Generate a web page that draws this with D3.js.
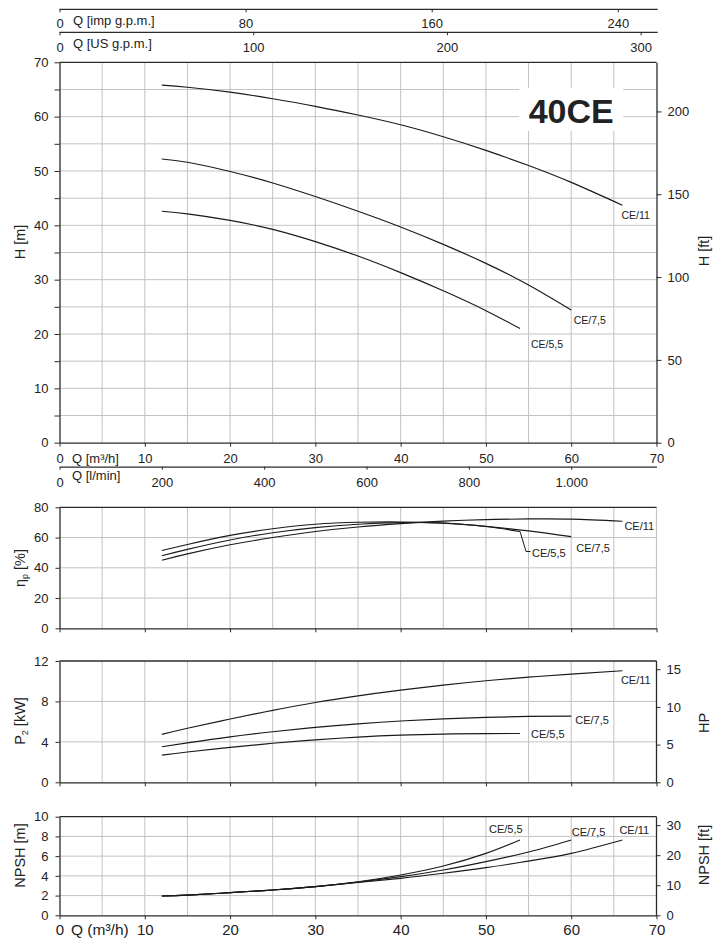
<!DOCTYPE html>
<html><head><meta charset="utf-8">
<script src="https://cdn.jsdelivr.net/npm/d3@7/dist/d3.min.js"></script>
<style>
body{margin:0;background:#fff}
svg{display:block}
text{font-family:"Liberation Sans",Arial,Helvetica,sans-serif;fill:#222}
</style>
</head><body>
<svg id="c" width="724" height="940"></svg>
<script>
// ---------------- DATA ----------------
const seriesNames = ["CE/5,5", "CE/7,5", "CE/11"];
// flow points (m3/h) per series
const qCE55 = [12, 15, 20, 25, 30, 35, 40, 45, 50, 54];
const qCE75 = [12, 15, 20, 25, 30, 35, 40, 45, 50, 55, 60];
const qCE11 = [12, 15, 20, 25, 30, 35, 40, 45, 50, 55, 60, 66];
// head H [m]
const headCE55 = [42.6, 42.1, 40.9, 39.25, 37.0, 34.35, 31.3, 27.95, 24.3, 21.0];
const headCE75 = [52.2, 51.6, 49.9, 47.8, 45.3, 42.6, 39.7, 36.5, 33.0, 29.0, 24.4];
const headCE11 = [65.8, 65.4, 64.5, 63.3, 61.9, 60.3, 58.5, 56.3, 53.8, 51.0, 47.9, 43.7];
// efficiency [%]
const effCE55 = [51.4, 55.4, 61.4, 65.8, 68.8, 70.1, 70.3, 69.5, 67.3, 64.0];
const effCE75 = [48.0, 52.2, 58.4, 63.2, 66.6, 68.8, 69.9, 69.6, 67.4, 64.4, 60.6];
const effCE11 = [45.0, 49.2, 55.2, 60.0, 64.0, 67.0, 69.2, 70.9, 71.9, 72.3, 72.2, 70.8];
// power P2 [kW]
const powCE55 = [2.69, 3.0, 3.45, 3.86, 4.2, 4.47, 4.66, 4.77, 4.82, 4.83];
const powCE75 = [3.52, 3.90, 4.50, 5.00, 5.43, 5.78, 6.06, 6.27, 6.42, 6.52, 6.55];
const powCE11 = [4.74, 5.35, 6.26, 7.12, 7.90, 8.55, 9.12, 9.62, 10.05, 10.40, 10.70, 11.04];
// NPSH [m]
const npshCE55 = [1.96, 2.05, 2.30, 2.57, 2.91, 3.40, 4.09, 5.00, 6.28, 7.64];
const npshCE75 = [1.96, 2.05, 2.30, 2.57, 2.91, 3.36, 3.92, 4.59, 5.44, 6.42, 7.64];
const npshCE11 = [1.96, 2.05, 2.30, 2.57, 2.91, 3.33, 3.75, 4.26, 4.83, 5.50, 6.28, 7.64];
// tick labels
const ticksImp = [0, 80, 160, 240];
const ticksUS = [0, 100, 200, 300];
const ticksLmin = [0, 200, 400, 600, 800, 1000];
const ticksQ = [0, 10, 20, 30, 40, 50, 60, 70];
const ticksHm = [0, 5, 10, 15, 20, 25, 30, 35, 40, 45, 50, 55, 60, 65, 70];
const ticksHft = [0, 50, 100, 150, 200];
const ticksEff = [0, 20, 40, 60, 80];
const ticksP = [0, 4, 8, 12];
const ticksHP = [0, 5, 10, 15];
const ticksN = [0, 2, 4, 6, 8, 10];
const ticksNft = [0, 10, 20, 30];
const modelTitle = "40CE";

// ---------------- LAYOUT ----------------
const svg = d3.select("#c");
const X0 = 59.5, X1 = 656.5;
const x = d3.scaleLinear().domain([0, 70]).range([X0, X1]);
const xImp = d3.scaleLinear().domain([0, 70 * 3.6662]).range([X0, X1]);
const xUS = d3.scaleLinear().domain([0, 70 * 4.4029]).range([X0, X1]);
const xLmin = d3.scaleLinear().domain([0, 70 * 1000 / 60]).range([X0, X1]);

const yH = d3.scaleLinear().domain([0, 70]).range([442.7, 62.3]);
const yHft = d3.scaleLinear().domain([0, 70 * 3.28084]).range([442.7, 62.3]);
const yE = d3.scaleLinear().domain([0, 80]).range([628.3, 507.3]);
const yP = d3.scaleLinear().domain([0, 12]).range([782.3, 661]);
const yHP = d3.scaleLinear().domain([0, 12 / 0.7457]).range([782.3, 661]);
const yN = d3.scaleLinear().domain([0, 10]).range([915.3, 816.7]);
const yNft = d3.scaleLinear().domain([0, 10 * 3.28084]).range([915.3, 816.7]);

const AX = "#2b2b2b", GRID = "#c3c3c3", CURVE = "#1a1a1a";
const gridX = d3.range(5, 70, 5);

function styleAxis(g, fs) {
  g.select(".domain").attr("stroke", AX).attr("stroke-width", 1.3);
  g.selectAll(".tick line").attr("stroke", AX).attr("stroke-width", 1);
  g.selectAll(".tick text").attr("fill", "#222").style("font-size", fs + "px")
    .style("font-family", '"Liberation Sans",Arial,Helvetica,sans-serif');
}

function drawGrid(yScale, hTicks, withRightGrey) {
  const g = svg.append("g");
  const [yb, yt] = yScale.range();
  g.selectAll("line.v").data(gridX).join("line")
    .attr("x1", d => x(d)).attr("x2", d => x(d)).attr("y1", yt).attr("y2", yb)
    .attr("stroke", GRID).attr("stroke-width", 1);
  g.selectAll("line.h").data(hTicks).join("line")
    .attr("x1", X0).attr("x2", X1).attr("y1", d => yScale(d)).attr("y2", d => yScale(d))
    .attr("stroke", GRID).attr("stroke-width", 1);
  if (withRightGrey) {
    g.append("line").attr("x1", X1).attr("x2", X1).attr("y1", yt).attr("y2", yb)
      .attr("stroke", GRID).attr("stroke-width", 1.2);
  }
  return g;
}

function frameTop(yScale) {
  const yt = yScale.range()[1];
  svg.append("line").attr("x1", X0).attr("x2", X1).attr("y1", yt).attr("y2", yt)
    .attr("stroke", AX).attr("stroke-width", 1.3);
}

const line = (yScale) => d3.line().x(d => x(d[0])).y(d => yScale(d[1])).curve(d3.curveNatural);

function drawCurves(yScale, arrays) {
  const g = svg.append("g");
  arrays.forEach(([q, v]) => {
    g.append("path").datum(d3.zip(q, v)).attr("d", line(yScale))
      .attr("fill", "none").attr("stroke", CURVE).attr("stroke-width", 1.15);
  });
}

function curveLabels(yScale, arrays, offsets, fs) {
  arrays.forEach(([q, v], i) => {
    const ex = x(q[q.length - 1]), ey = yScale(v[v.length - 1]);
    svg.append("text").attr("x", ex + offsets[i][0]).attr("y", ey + offsets[i][1])
      .style("font-size", fs + "px").text(seriesNames[i]);
  });
}

function yTitle(xPos, yPos, txt, fs) {
  return svg.append("text").attr("transform", `translate(${xPos},${yPos}) rotate(-90)`)
    .attr("text-anchor", "middle").style("font-size", fs + "px").text(txt);
}

const fmtDot = d3.formatLocale({decimal: ",", thousands: ".", grouping: [3], currency: ["", ""]}).format(",");

// ---------------- TOP FLOW AXES ----------------
const gImp = svg.append("g").attr("transform", "translate(0,9.3)")
  .call(d3.axisBottom(xImp).tickValues(ticksImp).tickSize(3).tickPadding(6).tickSizeOuter(0));
styleAxis(gImp, 13);
gImp.select(".domain").attr("d", `M${X0},0H${X1 + 1.2}`);
svg.append("text").attr("x", 73).attr("y", 25).style("font-size", "13px").text("Q [imp g.p.m.]");

const gUS = svg.append("g").attr("transform", "translate(0,32.3)")
  .call(d3.axisBottom(xUS).tickValues(ticksUS).tickSize(3).tickPadding(7).tickSizeOuter(0));
styleAxis(gUS, 13);
gUS.select(".domain").attr("d", `M${X0},0H${X1 + 1.2}`);
svg.append("text").attr("x", 73).attr("y", 48).style("font-size", "13px").text("Q [US g.p.m.]");

// ---------------- MAIN H-Q CHART ----------------
drawGrid(yH, ticksHm.filter(d => d > 0 && d < 70), false);
// white box behind model title
const titleCx = x(60.0), titleBase = yH(58.85);
svg.append("rect").attr("x", titleCx - 52).attr("y", titleBase - 35).attr("width", 104).attr("height", 43)
  .attr("fill", "#fff");
svg.append("text").attr("x", titleCx).attr("y", titleBase).attr("text-anchor", "middle")
  .style("font-size", "34px").style("font-weight", "bold").attr("fill", "#1a1a1a").text(modelTitle);

frameTop(yH);
const gHl = svg.append("g").attr("transform", `translate(${X0},0)`)
  .call(d3.axisLeft(yH).tickValues(ticksHm).tickSize(5).tickPadding(6).tickSizeOuter(0)
    .tickFormat(d => d % 10 === 0 ? d : ""));
styleAxis(gHl, 13);
const gHr = svg.append("g").attr("transform", `translate(${X1},0)`)
  .call(d3.axisRight(yHft).tickValues(ticksHft).tickSize(5).tickPadding(6).tickSizeOuter(0));
styleAxis(gHr, 13);
const gHb = svg.append("g").attr("transform", `translate(0,${yH(0)})`)
  .call(d3.axisBottom(x).tickValues(ticksQ).tickSize(4).tickPadding(7).tickSizeOuter(0));
styleAxis(gHb, 13);
svg.append("text").attr("x", 72).attr("y", 462.5).style("font-size", "13px").text("Q [m³/h]");

const gL = svg.append("g").attr("transform", "translate(0,466.7)")
  .call(d3.axisBottom(xLmin).tickValues(ticksLmin).tickSize(3).tickPadding(8).tickSizeOuter(0)
    .tickFormat(d => fmtDot(d)));
styleAxis(gL, 13);
svg.append("text").attr("x", 72).attr("y", 480).style("font-size", "13px").text("Q [l/min]");

const headSets = [[qCE55, headCE55], [qCE75, headCE75], [qCE11, headCE11]];
drawCurves(yH, headSets);
curveLabels(yH, headSets, [[11, 19], [2.5, 13.5], [-1, 13.5]], 10.5);
yTitle(25, 242, "H [m]", 14.5);
yTitle(709, 251, "H [ft]", 14.5);

// ---------------- EFFICIENCY CHART ----------------
drawGrid(yE, ticksEff.filter(d => d > 0 && d < 80), true);
frameTop(yE);
const gEl = svg.append("g").attr("transform", `translate(${X0},0)`)
  .call(d3.axisLeft(yE).tickValues(ticksEff).tickSize(4).tickPadding(7).tickSizeOuter(0));
styleAxis(gEl, 13);
const gEb = svg.append("g").attr("transform", `translate(0,${yE(0)})`)
  .call(d3.axisBottom(x).tickValues(ticksQ).tickSize(4).tickFormat("").tickSizeOuter(0));
styleAxis(gEb, 13);
const effSets = [[qCE55, effCE55], [qCE75, effCE75], [qCE11, effCE11]];
drawCurves(yE, effSets);
curveLabels(yE, effSets, [[12, 25], [5, 15], [2, 8.5]], 11);
{
  const ex = x(qCE55[qCE55.length - 1]), ey = yE(effCE55[effCE55.length - 1]);
  svg.append("path").attr("d", `M${ex},${ey}L${ex + 6},${ey + 20}L${ex + 10.5},${ey + 20}`)
    .attr("fill", "none").attr("stroke", CURVE).attr("stroke-width", 1);
}
const tEta = svg.append("text").attr("transform", "translate(25,568) rotate(-90)")
  .attr("text-anchor", "middle").style("font-size", "14.5px");
tEta.append("tspan").text("η");
tEta.append("tspan").attr("dy", 3).style("font-size", "9px").text("p");
tEta.append("tspan").attr("dy", -3).text(" [%]");

// ---------------- POWER CHART ----------------
drawGrid(yP, ticksP.filter(d => d > 0 && d < 12), false);
frameTop(yP);
const gPl = svg.append("g").attr("transform", `translate(${X0},0)`)
  .call(d3.axisLeft(yP).tickValues(ticksP).tickSize(4).tickPadding(7).tickSizeOuter(0));
styleAxis(gPl, 13);
const gPr = svg.append("g").attr("transform", `translate(${X1},0)`)
  .call(d3.axisRight(yHP).tickValues(ticksHP).tickSize(4).tickPadding(6).tickSizeOuter(0));
styleAxis(gPr, 13);
gPr.select(".domain").attr("d", `M0,${yP(0)}V${yP(12)}`);
const gPb = svg.append("g").attr("transform", `translate(0,${yP(0)})`)
  .call(d3.axisBottom(x).tickValues(ticksQ).tickSize(4).tickFormat("").tickSizeOuter(0));
styleAxis(gPb, 13);
const powSets = [[qCE55, powCE55], [qCE75, powCE75], [qCE11, powCE11]];
drawCurves(yP, powSets);
curveLabels(yP, powSets, [[11, 5], [4, 7.5], [-1.5, 13.5]], 11);
const tP = svg.append("text").attr("transform", "translate(25,721) rotate(-90)")
  .attr("text-anchor", "middle").style("font-size", "14.5px");
tP.append("tspan").text("P");
tP.append("tspan").attr("dy", 3).style("font-size", "9px").text("2");
tP.append("tspan").attr("dy", -3).text(" [kW]");
yTitle(709, 723, "HP", 14.5);

// ---------------- NPSH CHART ----------------
drawGrid(yN, ticksN.filter(d => d > 0 && d < 10), false);
frameTop(yN);
const gNl = svg.append("g").attr("transform", `translate(${X0},0)`)
  .call(d3.axisLeft(yN).tickValues(ticksN).tickSize(4).tickPadding(7).tickSizeOuter(0));
styleAxis(gNl, 13);
const gNr = svg.append("g").attr("transform", `translate(${X1},0)`)
  .call(d3.axisRight(yNft).tickValues(ticksNft).tickSize(4).tickPadding(6).tickSizeOuter(0));
styleAxis(gNr, 13);
gNr.select(".domain").attr("d", `M0,${yN(0)}V${yN(10)}`);
const gNb = svg.append("g").attr("transform", `translate(0,${yN(0)})`)
  .call(d3.axisBottom(x).tickValues(ticksQ).tickSize(4).tickPadding(5).tickSizeOuter(0));
styleAxis(gNb, 15);
svg.append("text").attr("x", 71).attr("y", 934.5).style("font-size", "15.5px").text("Q (m³/h)");
const npshSets = [[qCE55, npshCE55], [qCE75, npshCE75], [qCE11, npshCE11]];
drawCurves(yN, npshSets);
curveLabels(yN, npshSets, [[-31, -6.5], [0.5, -4.3], [-3, -6]], 11);
yTitle(25, 855.5, "NPSH [m]", 14.5);
yTitle(709, 855, "NPSH [ft]", 14.5);
</script>
</body></html>
